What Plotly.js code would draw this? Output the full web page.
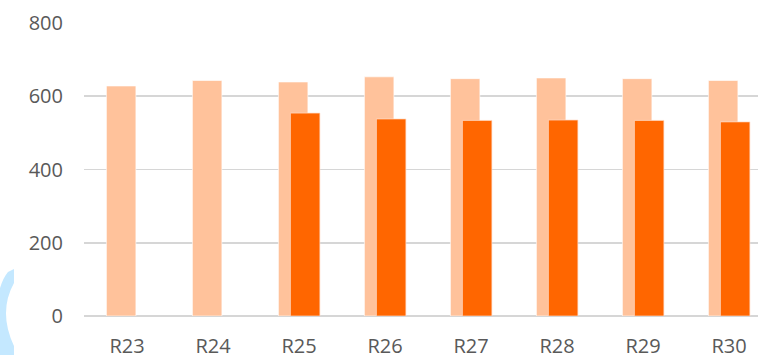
<!DOCTYPE html>
<html>
<head>
<meta charset="utf-8">
<script src="https://cdn.plot.ly/plotly-3.0.1.min.js"></script>
<style>
  html, body { margin: 0; padding: 0; background: #ffffff; }
  #chart { width: 758px; height: 355px; }
</style>
</head>
<body>
<div id="chart"></div>
<script>
const categories = ['R23', 'R24', 'R25', 'R26', 'R27', 'R28', 'R29', 'R30'];
const seriesLight = [628, 643, 639, 653, 648, 650, 648, 643];
const seriesDark = [null, null, 554, 538, 534, 535, 534, 530];
const yTickVals = [0, 200, 400, 600, 800];

const W = 758, H = 355;
const margin = {l: 84, r: 0, t: 23, b: 39};
const plotW = W - margin.l - margin.r;
const plotH = H - margin.t - margin.b;
const catPx = 86;

function px(x) { return (x - margin.l) / plotW; }
function py(y) { return (H - margin.b - y) / plotH; }
function P(x, y) { return px(x).toFixed(4) + ',' + py(y).toFixed(4); }

const barW = 29.5 / catPx;

const traces = [
  {
    type: 'bar', x: categories, y: seriesLight,
    width: barW, offset: -20.6 / catPx,
    marker: {color: '#FFC29B', line: {color: 'rgba(255,255,255,0.6)', width: 1}},
    hoverinfo: 'skip'
  },
  {
    type: 'bar', x: categories, y: seriesDark,
    width: barW, offset: -8.6 / catPx,
    marker: {color: '#FF6600', line: {color: 'rgba(255,220,200,0.7)', width: 1}},
    hoverinfo: 'skip'
  }
];

const watermark = 'M ' + P(14, 269) + ' L ' + P(14, 283) +
  ' Q ' + P(-2, 312) + ' ' + P(14, 346) + ' L ' + P(14, 356) +
  ' L ' + P(0, 356) + ' L ' + P(0, 288) + ' Q ' + P(3, 278) + ' ' + P(8, 272) + ' Z';

const layout = {
  width: W, height: H,
  margin: margin,
  paper_bgcolor: '#ffffff', plot_bgcolor: '#ffffff',
  barmode: 'overlay',
  showlegend: false,
  font: {family: '"Open Sans", sans-serif', size: 20, color: '#595959'},
  xaxis: {
    type: 'category',
    range: [-0.5, -0.5 + plotW / catPx],
    showgrid: false, zeroline: false, showline: false,
    ticks: '', ticklabelstandoff: 16,
    tickfont: {size: 20, color: '#595959'}
  },
  yaxis: {
    range: [0, 800],
    tickvals: yTickVals,
    showgrid: true, gridcolor: '#D6D6D6', gridwidth: 1.6,
    zeroline: true, zerolinecolor: '#D6D6D6', zerolinewidth: 1.8,
    showline: false, ticks: '', ticklabelstandoff: 20,
    tickfont: {size: 20, color: '#595959'}
  },
  shapes: [{
    type: 'path', xref: 'paper', yref: 'paper', path: watermark,
    fillcolor: '#C4E8FF', line: {width: 0}, layer: 'below'
  }]
};

Plotly.newPlot('chart', traces, layout, {staticPlot: true, displayModeBar: false});
</script>
</body>
</html>
